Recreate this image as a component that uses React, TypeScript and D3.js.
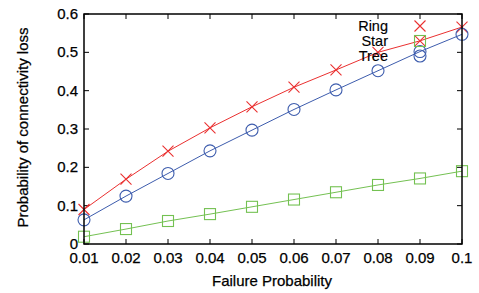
import React from "react";
import * as d3 from "d3";

const failureProb = [0.01, 0.02, 0.03, 0.04, 0.05, 0.06, 0.07, 0.08, 0.09, 0.1];
const ringValues = [0.09, 0.169, 0.242, 0.303, 0.358, 0.409, 0.454, 0.5, 0.53, 0.566];
const starValues = [0.019, 0.039, 0.06, 0.078, 0.097, 0.116, 0.135, 0.154, 0.171, 0.19];
const treeValues = [0.063, 0.125, 0.184, 0.243, 0.297, 0.351, 0.402, 0.452, 0.502, 0.547];
const xTicks = [0.01, 0.02, 0.03, 0.04, 0.05, 0.06, 0.07, 0.08, 0.09, 0.1];
const yTicks = [0, 0.1, 0.2, 0.3, 0.4, 0.5, 0.6];
const seriesNames = ["Ring", "Star", "Tree"];

const W = 479, H = 293;
const L = 84, R = 462, T = 14, B = 244;
const FONT = "'Liberation Sans', Arial, Helvetica, sans-serif";

const colors: Record<string, string> = { Ring: "#ea3030", Star: "#74c152", Tree: "#3d5cad" };

function Marker({ kind, x, y }: { kind: string; x: number; y: number }) {
  const c = colors[kind];
  if (kind === "Ring") {
    const s = 5.5;
    return (
      <path d={`M${x - s},${y - s}L${x + s},${y + s}M${x - s},${y + s}L${x + s},${y - s}`} stroke={c} strokeWidth={1.1} fill="none" />
    );
  }
  if (kind === "Star") {
    const s = 5.5;
    return <rect x={x - s} y={y - s} width={2 * s} height={2 * s} stroke={c} strokeWidth={1.1} fill="none" />;
  }
  return <circle cx={x} cy={y} r={6} stroke={c} strokeWidth={1.1} fill="none" />;
}

export default function App() {
  const x = d3.scaleLinear().domain([0.01, 0.1]).range([L, R]);
  const y = d3.scaleLinear().domain([0, 0.6]).range([B, T]);
  const data: Record<string, number[]> = { Ring: ringValues, Star: starValues, Tree: treeValues };
  const line = d3
    .line<[number, number]>()
    .x((d) => x(d[0]))
    .y((d) => y(d[1]));

  const legendY = [26, 41, 56];
  const txt = { fill: "#000", stroke: "#000", strokeWidth: 0.25 };

  return (
    <svg width={W} height={H} style={{ position: "absolute", left: 0, top: 0, background: "#fff" }} fontFamily={FONT}>
      <rect x={0} y={0} width={W} height={H} fill="#fff" />
      {/* ticks */}
      {xTicks.map((t) => (
        <g key={"x" + t}>
          <line x1={x(t)} x2={x(t)} y1={B} y2={B - 5} stroke="#000" strokeWidth={1} />
          <line x1={x(t)} x2={x(t)} y1={T} y2={T + 5} stroke="#000" strokeWidth={1} />
          <text x={x(t)} y={263} textAnchor="middle" fontSize={15} {...txt}>
            {d3.format("")(t)}
          </text>
        </g>
      ))}
      {yTicks.map((t) => (
        <g key={"y" + t}>
          <line x1={L} x2={L + 5} y1={y(t)} y2={y(t)} stroke="#000" strokeWidth={1} />
          <line x1={R} x2={R - 5} y1={y(t)} y2={y(t)} stroke="#000" strokeWidth={1} />
          <text x={78} y={y(t) + 5} textAnchor="end" fontSize={15} {...txt}>
            {d3.format("")(t)}
          </text>
        </g>
      ))}
      {/* series */}
      {seriesNames.map((name) => {
        const pts: [number, number][] = failureProb.map((p, i) => [p, data[name][i]]);
        return (
          <g key={name}>
            <path d={line(pts) || ""} stroke={colors[name]} strokeWidth={1} fill="none" />
            {pts.map((p, i) => (
              <Marker key={i} kind={name} x={x(p[0])} y={y(p[1])} />
            ))}
          </g>
        );
      })}
      {/* legend */}
      {seriesNames.map((name, i) => (
        <g key={"leg" + name}>
          <text x={388} y={legendY[i] + 5} textAnchor="end" fontSize={14.5} fill="#000" stroke="#000" strokeWidth={0.15}>
            {name}
          </text>
          <Marker kind={name} x={420} y={legendY[i]} />
        </g>
      ))}
      {/* frame */}
      <rect x={L} y={T} width={R - L} height={B - T} fill="none" stroke="#000" strokeWidth={1.5} />
      {/* axis titles */}
      <text x={272} y={286} textAnchor="middle" fontSize={15} {...txt}>
        Failure Probability
      </text>
      <text transform={`translate(28,${(T + B) / 2 - 1.5}) rotate(-90)`} textAnchor="middle" fontSize={15} {...txt}>
        Probability of connectivity loss
      </text>
    </svg>
  );
}
